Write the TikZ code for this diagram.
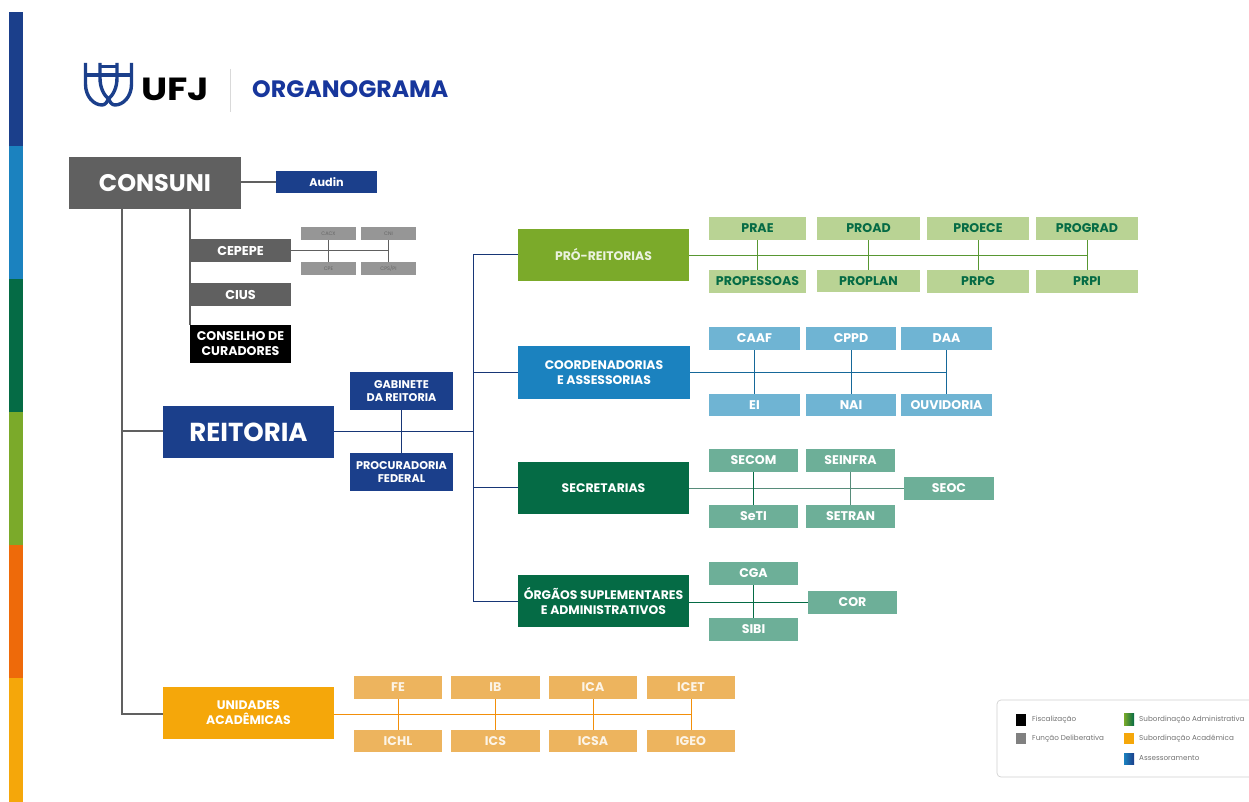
\documentclass[tikz,border=0pt]{standalone}
\usepackage{fontspec}
\setmainfont{Poppins}
\definecolor{navy}{HTML}{1B3F8B}
\definecolor{sky}{HTML}{1B82BF}
\definecolor{forest}{HTML}{056B45}
\definecolor{leaf}{HTML}{7BAA2A}
\definecolor{flame}{HTML}{EE6A0A}
\definecolor{amber}{HTML}{F5A70A}
\definecolor{slate}{HTML}{606060}
\definecolor{ltleaf}{HTML}{B9D394}
\definecolor{ltsky}{HTML}{6FB4D3}
\definecolor{ltforest}{HTML}{6DAF98}
\definecolor{ltamber}{HTML}{EDB45E}
\definecolor{ltgrey}{HTML}{969696}
\tikzset{x=1pt,y=-1pt,
 boxbase/.style={inner sep=0pt,align=center,font=\bfseries,text=white,anchor=center},
 consuni/.style={boxbase,fill=slate,font=\bfseries\fontsize{24}{27}\selectfont},
 rei/.style={boxbase,fill=navy,font=\bfseries\fontsize{26}{30}\selectfont},
 midnavy/.style={boxbase,fill=navy,font=\bfseries\fontsize{11.2}{13.5}\selectfont},
 greymid/.style={boxbase,fill=slate,font=\bfseries\fontsize{12.8}{15}\selectfont},
 blackbox/.style={boxbase,fill=black,font=\bfseries\fontsize{12.6}{15}\selectfont},
 head/.style={boxbase,font=\bfseries\fontsize{12.4}{15}\selectfont},
 subbox/.style={boxbase,font=\bfseries\fontsize{12.6}{14}\selectfont},
 tiny/.style={boxbase,fill=ltgrey,text=black!60,font=\fontsize{5}{6}\selectfont},
 lineg/.style={draw=slate,line width=1.3pt},
 linen/.style={draw=navy!85!black,line width=1pt},
 legendtext/.style={inner sep=0pt,anchor=west,text=black!55,font=\fontsize{7.2}{8}\selectfont},
 swatch/.style={inner sep=0pt,anchor=center,minimum width=10pt,minimum height=11.5pt}
}
% name, x0, y0, x1, y1, style, text
\newcommand{\bx}[7]{%
 \pgfmathsetmacro{\bw}{#4-#2}\pgfmathsetmacro{\bh}{#5-#3}%
 \pgfmathsetmacro{\bcx}{(#2+#4)/2}\pgfmathsetmacro{\bcy}{(#3+#5)/2}%
 \node[#6,minimum width=\bw pt,minimum height=\bh pt] (#1) at (\bcx,\bcy) {#7};}
\begin{document}
\begin{tikzpicture}
\useasboundingbox (0,0) rectangle (1249,802);
\fill[white] (0,0) rectangle (1249,802);
% side bar
\fill[navy] (9,12) rectangle (23,146);
\fill[sky] (9,146) rectangle (23,279);
\fill[forest] (9,279) rectangle (23,412);
\fill[leaf] (9,412) rectangle (23,545);
\fill[flame] (9,545) rectangle (23,678);
\fill[amber] (9,678) rectangle (23,802);
% logo
\begin{scope}[navy,line width=3.4pt,line join=round]
\draw (85.5,63) -- (85.5,84) .. controls (85.5,97) and (94,105) .. (102,105) .. controls (105,105) and (107.5,102) .. (108.5,99) .. controls (109.5,102) and (112,105) .. (115,105) .. controls (123,105) and (131.5,97) .. (131.5,84) -- (131.5,63);
\draw (85.5,75) -- (131.5,75);
\draw (100,63) -- (100,78) .. controls (100,88) and (104,95) .. (108.5,99);
\draw (117,63) -- (117,78) .. controls (117,88) and (113,95) .. (108.5,99);
\draw (100,66.5) -- (117,66.5);
\end{scope}
\node[inner sep=0pt,anchor=west,font=\bfseries\fontsize{32}{34}\selectfont,text=black,xscale=1.16,transform shape] (ufj) at (141,89) {UFJ};
\draw[black!15,line width=1pt] (230,69) -- (230,112);
\node[inner sep=0pt,anchor=west,font=\bfseries\fontsize{23.7}{25}\selectfont,text=navy!85!blue] (org) at (252,89.5) {ORGANOGRAMA};
% boxes
\bx{consuni}{69}{157}{241}{209}{consuni}{CONSUNI}
\bx{audin}{276}{171}{377}{193}{midnavy}{Audin}
\bx{cepepe}{190}{239}{291}{262}{greymid}{CEPEPE}
\bx{cius}{190}{283}{291}{306}{greymid}{CIUS}
\bx{curad}{190}{325}{291}{363}{blackbox}{CONSELHO DE\\CURADORES}
\bx{cacx}{301}{227}{356}{240}{tiny}{CACX}
\bx{cni}{361}{227}{416}{240}{tiny}{CNI}
\bx{cpe}{301}{262}{356}{275}{tiny}{CPE}
\bx{cps}{361}{262}{416}{275}{tiny}{CPS/PI}
\bx{reitoria}{163}{406}{334}{458}{rei}{REITORIA}
\bx{gab}{350}{372}{453}{410}{midnavy}{GABINETE\\DA REITORIA}
\bx{proc}{350}{453}{453}{491}{midnavy}{PROCURADORIA\\FEDERAL}
\bx{pro}{518}{229.5}{689}{281}{head,fill=leaf,text=white!85!leaf}{\raisebox{1.5pt}{PRÓ-REITORIAS}}
\bx{coord}{518}{346}{690}{399}{head,fill=sky}{COORDENADORIAS\\E ASSESSORIAS}
\bx{secr}{518}{462}{689}{514}{head,fill=forest}{SECRETARIAS}
\bx{orgs}{518}{575}{689}{627}{head,fill=forest}{ÓRGÃOS SUPLEMENTARES\\E ADMINISTRATIVOS}
\bx{unid}{163}{687}{334}{739}{head,fill=amber}{UNIDADES\\ACADÊMICAS}
% connector corner points
\coordinate (tr1) at (122,431);
\coordinate (tr2) at (122,714);
\coordinate (t1) at (122,209);
\coordinate (t2) at (190,209);
\coordinate (t3) at (190,325);
\coordinate (j) at (473,431);
\coordinate (jt) at (473,254);
\coordinate (jb) at (473,601);
\coordinate (jc) at (473,372);
\coordinate (js) at (473,487);
\draw[lineg] (t1) -- (tr2) -- (unid.west |- tr2);
\draw[lineg] (tr1) -- (reitoria.west |- tr1);
\draw[lineg] (t2) -- (t3);
\draw[lineg] (consuni.east |- audin) -- (audin.west);
\draw[linen] (reitoria.east |- j) -- (j);
\draw[linen] (gab.south) -- (proc.north);
\draw[linen] (jt) -- (jb) -- (orgs.west |- jb);
\draw[linen] (jt) -- (pro.west |- jt);
\draw[linen] (jc) -- (coord.west |- jc);
\draw[linen] (js) -- (secr.west |- js);
% cepepe
\draw[slate,line width=.8pt] (cepepe.east) -- (cni.south |- cepepe.east);
\draw[slate,line width=.8pt] (cacx.south) -- (cpe.north);
\draw[slate,line width=.8pt] (cni.south) -- (cps.north);
% pro-reitorias
\foreach \n/\a/\b/\c/\d/\t in {prae/709/217/806/240/PRAE,proad/817/217/920/240/PROAD,proece/927/217/1029/240/PROECE,prograd/1036/217/1138/240/PROGRAD,propes/709/270/806/293/PROPESSOAS,proplan/817/270/920/292/PROPLAN,prpg/927/270/1029/293/PRPG,prpi/1036/270/1138/293/PRPI}
 {\bx{\n}{\a}{\b}{\c}{\d}{subbox,fill=ltleaf,text=forest}{\t}}
\draw[leaf!70!forest,line width=1pt] (pro.east) -- (prograd.center |- pro.east);
\foreach \p/\q in {prae/propes,proad/proplan,proece/prpg,prograd/prpi}
 \draw[leaf!70!forest,line width=1pt] (\p.south) -- (\q.north);
% coord
\foreach \n/\a/\b/\c/\d/\t in {caaf/709/327/800/350/CAAF,cppd/806/327/896/350/CPPD,daa/901/327/992/350/DAA,ei/709/394/800/416/EI,nai/806/394/896/416/NAI,ouv/901/394/992/416/OUVIDORIA}
 {\bx{\n}{\a}{\b}{\c}{\d}{subbox,fill=ltsky}{\t}}
\draw[sky!80!black,line width=1pt] (coord.east) -- (daa.center |- coord.east);
\foreach \p/\q in {caaf/ei,cppd/nai,daa/ouv}
 \draw[sky!80!black,line width=1pt] (\p.south) -- (\q.north);
% secretarias
\foreach \n/\a/\b/\c/\d/\t in {secom/709/449/798/472/SECOM,seinfra/806/449/895/472/SEINFRA,seti/709/505/798/528/SeTI,setran/806/505/895/528/SETRAN,seoc/904/477/994/500/SEOC,cga/709/562/798/585/CGA,sibi/709/618/798/641/SIBI,cor/808/591/897/614/COR}
 {\bx{\n}{\a}{\b}{\c}{\d}{subbox,fill=ltforest}{\t}}
\draw[ltforest!80!black,line width=1.2pt] (secr.east |- seoc.west) -- (seoc.west);
\draw[forest,line width=1.2pt] (secom.south) -- (seti.north);
\draw[ltforest!80!black,line width=1.2pt] (seinfra.south) -- (setran.north);
\draw[forest,line width=1.2pt] (orgs.east |- cor.west) -- (cor.west);
\draw[forest,line width=1.2pt] (cga.south) -- (sibi.north);
% unidades
\foreach \n/\a/\c/\t in {fe/354/442/FE,ib/451/540/IB,ica/549/637/ICA,icet/647/735/ICET}
 {\bx{\n}{\a}{676}{\c}{699}{subbox,fill=ltamber,text=white!85!ltamber}{\t}}
\foreach \n/\a/\c/\t in {ichl/354/442/ICHL,ics/451/540/ICS,icsa/549/637/ICSA,igeo/647/735/IGEO}
 {\bx{\n}{\a}{730}{\c}{752}{subbox,fill=ltamber,text=white!85!ltamber}{\t}}
\draw[flame!40!amber,line width=1pt] (unid.east |- tr2) -- (icet.center |- tr2);
\foreach \p/\q in {fe/ichl,ib/ics,ica/icsa,icet/igeo}
 \draw[flame!40!amber,line width=1pt] (\p.south) -- (\q.north);
% legend
\draw[black!18,line width=.7pt,rounded corners=4pt] (1260,700) -- (997,700) -- (997,777) -- (1260,777);
\node[swatch,fill=black] (s1) at (1021,720) {};
\node[swatch,fill=black!50] (s2) at (1021,738.5) {};
\node[swatch,left color=leaf,right color=forest] (s3) at (1129,719.5) {};
\node[swatch,fill=amber] (s4) at (1129,738.5) {};
\node[swatch,left color=sky,right color=navy] (s5) at (1129,759) {};
\node[legendtext] (l1) at (1032,720) {Fiscalização};
\node[legendtext] (l2) at (1032,738.5) {Função Deliberativa};
\node[legendtext] (l3) at (1139,719.5) {Subordinação Administrativa};
\node[legendtext] (l4) at (1139,738.5) {Subordinação Acadêmica};
\node[legendtext] (l5) at (1139,758.5) {Assessoramento};
\end{tikzpicture}
\end{document}
